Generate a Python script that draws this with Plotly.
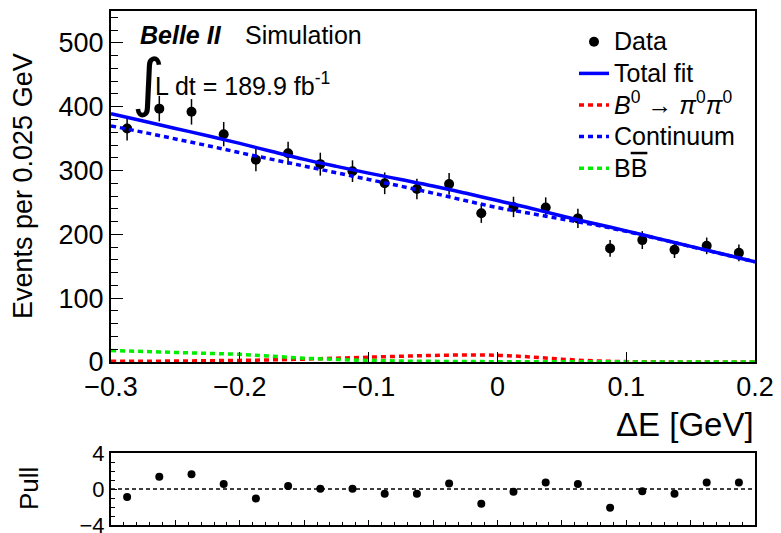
import plotly.graph_objects as go

# ---------------- data ----------------
bin_centers = [-0.2875, -0.2625, -0.2375, -0.2125, -0.1875, -0.1625, -0.1375, -0.1125,
               -0.0875, -0.0625, -0.0375, -0.0125, 0.0125, 0.0375, 0.0625, 0.0875,
               0.1125, 0.1375, 0.1625, 0.1875]
data_counts = [366, 397, 392, 357, 317, 327, 310, 299, 280, 271,
               279, 233, 243, 242, 225, 178, 191, 176, 182, 171]
data_errors = [19, 20, 20, 19, 18, 18, 18, 17, 17, 16,
               17, 15, 16, 16, 15, 13, 14, 13, 13, 13]
pulls = [-0.9, 1.35, 1.65, 0.56, -1.05, 0.34, 0.04, 0.04, -0.53, -0.53,
         0.6, -1.65, -0.3, 0.71, 0.56, -2.07, -0.26, -0.53, 0.71, 0.71]

curve_x = [-0.3, -0.275, -0.25, -0.225, -0.2, -0.175, -0.15, -0.125, -0.1, -0.075,
           -0.05, -0.025, 0.0, 0.025, 0.05, 0.075, 0.1, 0.125, 0.15, 0.175, 0.2]
continuum = [370, 360, 349.5, 339, 328, 317.5, 307, 296.5, 286, 275.5,
             264.6, 253, 242, 233, 224, 215, 204.7, 193, 181, 169, 157]
signal = [1, 1.2, 1.5, 2, 2.5, 3.3, 4.5, 6, 7.5, 9,
          10.3, 11, 10.5, 8, 4.5, 1.8, 0.6, 0.2, 0.1, 0.1, 0.1]
bbbar = [18, 16.5, 15, 13.5, 12, 9, 6, 4, 2.5, 1.5,
         1, 0.7, 0.5, 0.4, 0.3, 0.2, 0.2, 0.1, 0.1, 0.1, 0.1]
total_fit = [c + s + b for c, s, b in zip(continuum, signal, bbbar)]

legend_names = ["Data", "Total fit",
                "<i>B</i><sup>0</sup> \u2192 <i>\u03c0</i><sup>0</sup><i>\u03c0</i><sup>0</sup>",
                "Continuum", "B<span style='text-decoration:overline'>B</span>"]

FONT = "Liberation Sans"
W, H = 781, 533

def px_x(p):
    return p / W

def px_y(p):
    return 1 - p / H

def big(name):
    return "<span style='font-size:25px'>" + name + "</span>"

fig = go.Figure()

fig.add_trace(go.Scatter(
    x=bin_centers, y=data_counts, mode="markers", name=big(legend_names[0]),
    marker=dict(color="black", size=10),
    error_y=dict(type="data", array=data_errors, color="black", thickness=1.5, width=0),
    xaxis="x", yaxis="y"))
fig.add_trace(go.Scatter(
    x=curve_x, y=total_fit, mode="lines", name=big(legend_names[1]),
    line=dict(color="#0000ff", width=3.5, shape="spline"), xaxis="x", yaxis="y"))
fig.add_trace(go.Scatter(
    x=curve_x, y=signal, mode="lines", name=big(legend_names[2]),
    line=dict(color="#ff0000", width=3.5, dash="5px,4px", shape="spline"), xaxis="x", yaxis="y"))
fig.add_trace(go.Scatter(
    x=curve_x, y=continuum, mode="lines", name=big(legend_names[3]),
    line=dict(color="#0000ff", width=3.5, dash="5px,4px", shape="spline"), xaxis="x", yaxis="y"))
fig.add_trace(go.Scatter(
    x=curve_x, y=bbbar, mode="lines", name=big(legend_names[4]),
    line=dict(color="#00ee00", width=3.5, dash="5px,4px", shape="spline"), xaxis="x", yaxis="y"))

# pull panel
fig.add_trace(go.Scatter(
    x=[curve_x[0], curve_x[-1]], y=[0, 0], mode="lines", showlegend=False,
    line=dict(color="black", width=1.5, dash="4px,3px"), xaxis="x2", yaxis="y2"))
fig.add_trace(go.Scatter(
    x=bin_centers, y=pulls, mode="markers", showlegend=False,
    marker=dict(color="black", size=8), xaxis="x2", yaxis="y2"))

x_dom = [px_x(111), px_x(755)]
axis_common = dict(showline=True, linecolor="black", linewidth=2, mirror=True,
                   showgrid=False, zeroline=False, ticks="inside", tickcolor="black",
                   automargin=False, ticklabeloverflow="allow")

fig.update_layout(
    width=W, height=H, margin=dict(l=0, r=0, t=0, b=0, autoexpand=False),
    paper_bgcolor="white", plot_bgcolor="white",
    font=dict(family=FONT, color="black"),
    xaxis=dict(domain=x_dom, range=[-0.3, 0.2], dtick=0.1, tick0=0, ticklen=10,
               tickfont=dict(size=27), anchor="y", **axis_common),
    yaxis=dict(domain=[px_y(362), px_y(11)], range=[0, 550], dtick=100, ticklen=12,
               tickfont=dict(size=27), anchor="x",
               minor=dict(dtick=20, ticklen=7, ticks="inside", tickcolor="black"), **axis_common),
    xaxis2=dict(domain=x_dom, range=[-0.3, 0.2], dtick=0.05, tick0=0, ticklen=5,
                showticklabels=False, anchor="y2",
                minor=dict(dtick=0.01, ticklen=3, ticks="inside", tickcolor="black"), **axis_common),
    yaxis2=dict(domain=[px_y(525), px_y(453)], range=[-4, 4], tickvals=[-4, 0, 4], ticklen=6,
                tickfont=dict(size=22), anchor="x2",
                minor=dict(dtick=1, ticklen=4, ticks="inside", tickcolor="black"), **axis_common),
    legend=dict(x=px_x(574), y=px_y(21), xanchor="left", yanchor="top",
                font=dict(size=22, family=FONT), bgcolor="rgba(0,0,0,0)", itemwidth=30),
    showlegend=True,
)

annotations = [
    dict(text="Events per 0.025 GeV", x=px_x(23), y=px_y(186), textangle=-90,
         font=dict(size=27)),
    dict(text="Pull", x=px_x(29), y=px_y(489), textangle=-90, font=dict(size=26)),
    dict(text="\u0394E [GeV]", x=px_x(756), y=px_y(424), xanchor="right", font=dict(size=33)),
    dict(text="<b><i>Belle II</i></b>", x=px_x(138), y=px_y(35), xanchor="left",
         font=dict(size=25)),
    dict(text="Simulation", x=px_x(243), y=px_y(35), xanchor="left", font=dict(size=25)),
    dict(text="\u222b", x=px_x(130), y=px_y(82), xanchor="left",
         font=dict(size=63, family="DejaVu Sans")),
    dict(text="L dt = 189.9 fb<sup>-1</sup>", x=px_x(153), y=px_y(84), xanchor="left",
         font=dict(size=25)),
]
for a in annotations:
    a.update(xref="paper", yref="paper", showarrow=False, yanchor=a.get("yanchor", "middle"))
    a.setdefault("xanchor", "center")
fig.update_layout(annotations=annotations)

fig.write_html("out.html")
